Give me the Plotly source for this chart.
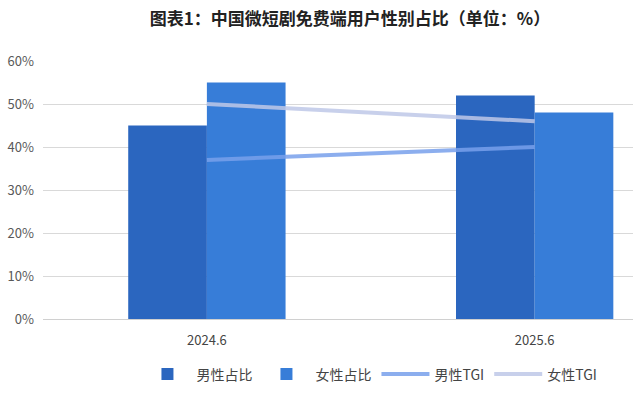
import plotly.graph_objects as go

categories = ["2024.6", "2025.6"]
male_share = [45, 52]
female_share = [55, 48]
male_tgi = [37, 40]
female_tgi = [50, 46]
y_ticks = [0, 10, 20, 30, 40, 50, 60]
y_tick_labels = [f"{v}%" for v in y_ticks]

font_family = "Noto Sans CJK SC, Noto Sans, sans-serif"

fig = go.Figure()
fig.add_trace(go.Bar(name="男性占比", x=categories, y=male_share,
                     marker=dict(color="#2b66bf", line=dict(width=0))))
fig.add_trace(go.Bar(name="女性占比", x=categories, y=female_share,
                     marker=dict(color="#377dd8", line=dict(width=0))))
fig.add_trace(go.Scatter(name="男性TGI", x=categories, y=male_tgi, mode="lines",
                         line=dict(color="rgba(120,160,235,0.85)", width=4)))
fig.add_trace(go.Scatter(name="女性TGI", x=categories, y=female_tgi, mode="lines",
                         line=dict(color="rgba(190,200,232,0.85)", width=4)))

fig.update_layout(
    width=633, height=396,
    margin=dict(l=43, r=0, t=61, b=77),
    paper_bgcolor="white", plot_bgcolor="white",
    barmode="group", bargap=0.52, bargroupgap=0,
    font=dict(family=font_family, color="#595959", size=13),
    title=dict(text="<b>图表1：中国微短剧免费端用户性别占比（单位：%）</b>",
               x=0.553, xanchor="center", y=0.952, yanchor="middle",
               font=dict(size=17, color="#222222", family=font_family)),
    xaxis=dict(type="category", range=[-0.5, 1.3], showgrid=False,
               showline=False, ticks="", ticklabelstandoff=12,
               tickfont=dict(size=13, color="#444444")),
    yaxis=dict(range=[0, 60], tickvals=y_ticks, ticktext=y_tick_labels,
               showgrid=True, gridcolor="#d9d9d9", gridwidth=1,
               zeroline=True, zerolinecolor="#d0d0d0", zerolinewidth=1,
               showline=False, ticks="", ticklabelstandoff=8,
               tickfont=dict(size=13, color="#595959")),
    legend=dict(orientation="h", x=0.555, xanchor="center", y=-0.215, yanchor="middle",
                font=dict(size=14, color="#444444"), itemwidth=48,
                traceorder="normal"),
    showlegend=True,
)

fig.write_html("out.html")
